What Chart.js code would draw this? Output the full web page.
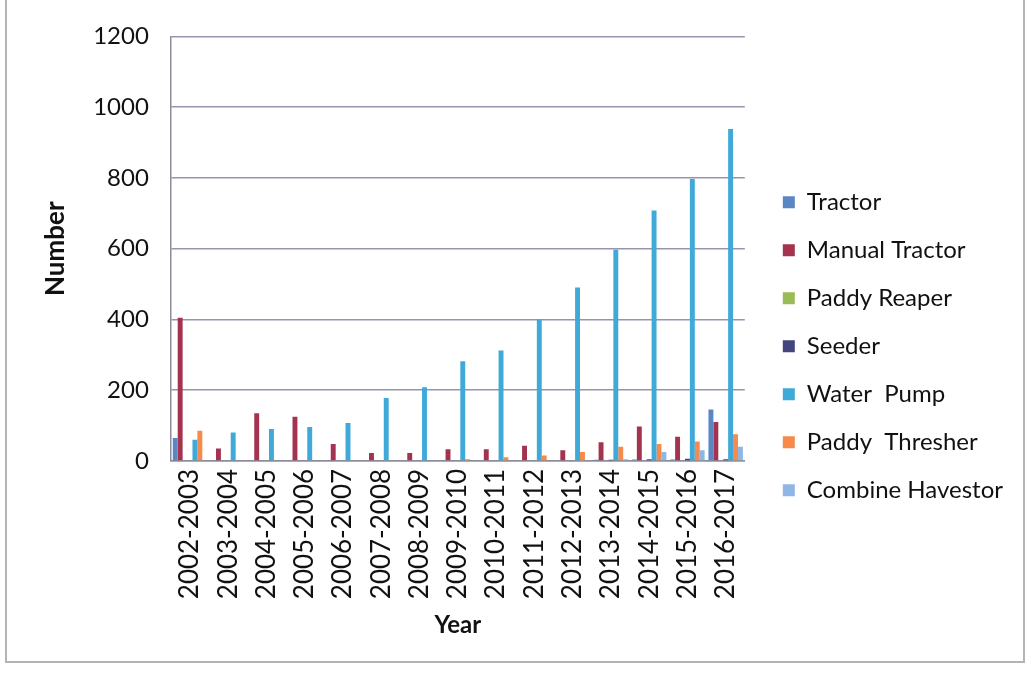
<!DOCTYPE html>
<html>
<head>
<meta charset="utf-8">
<title>Farm machinery by year</title>
<script src="https://cdn.jsdelivr.net/npm/chart.js@4"></script>
<style>
  html, body { margin: 0; padding: 0; background: #fff; }
  #wrap { position: relative; width: 1028px; height: 673px; overflow: hidden; }
  #frame { position: absolute; left: 5px; top: -3px; width: 1020px; height: 666px; border: 2px solid #b4b4b4; box-sizing: border-box; }
  #chart { position: absolute; left: 0; top: 0; }
</style>
</head>
<body>
<div id="wrap">
  <div id="frame"></div>
  <canvas id="chart" width="1028" height="673"></canvas>
</div>
<script>
// categories (x axis)
const years = [
  "2002-2003", "2003-2004", "2004-2005", "2005-2006", "2006-2007",
  "2007-2008", "2008-2009", "2009-2010", "2010-2011", "2011-2012",
  "2012-2013", "2013-2014", "2014-2015", "2015-2016", "2016-2017",
];

// series values
const tractor        = [65, 0, 0, 0, 0, 0, 0, 0, 0, 0, 0, 3, 4, 4, 145];
const manualTractor  = [405, 35, 135, 125, 48, 22, 22, 33, 33, 43, 30, 53, 97, 68, 110];
const paddyReaper    = [0, 0, 0, 0, 0, 0, 0, 0, 0, 0, 0, 0, 0, 2, 0];
const seeder         = [0, 0, 0, 0, 0, 0, 0, 0, 0, 0, 0, 3, 5, 6, 5];
const waterPump      = [60, 80, 90, 96, 107, 178, 208, 282, 312, 400, 490, 597, 708, 797, 938];
const paddyThresher  = [85, 0, 0, 0, 0, 0, 0, 5, 10, 15, 25, 40, 48, 55, 75];
const combineHarvest = [0, 0, 0, 0, 0, 0, 0, 0, 0, 0, 0, 5, 25, 30, 40];

const yTicks = [0, 200, 400, 600, 800, 1000, 1200];

const FONT = "Lato, 'Open Sans', 'DejaVu Sans', sans-serif";

function ds(label, data, color) {
  return { label, data, backgroundColor: color, borderWidth: 0 };
}

const ctx = document.getElementById("chart").getContext("2d");
new Chart(ctx, {
  type: "bar",
  data: {
    labels: years,
    datasets: [
      ds("Tractor", tractor, "#5b86c4"),
      ds("Manual Tractor", manualTractor, "#a3334f"),
      ds("Paddy Reaper", paddyReaper, "#9bbb59"),
      ds("Seeder", seeder, "#45457e"),
      ds("Water  Pump", waterPump, "#3fa9d8"),
      ds("Paddy  Thresher", paddyThresher, "#f58a4c"),
      ds("Combine Havestor", combineHarvest, "#8fb7e5"),
    ],
  },
  options: {
    responsive: false,
    animation: false,
    devicePixelRatio: 1,
    datasets: { bar: { categoryPercentage: 0.9, barPercentage: 1.0 } },
    layout: { padding: { top: 32, left: 40, right: 15, bottom: 33 } },
    plugins: {
      tooltip: { enabled: false },
      legend: {
        position: "right",
        align: "center",
        maxWidth: 320,
        // blank title only pushes the items down a little
        title: { display: true, text: " ", font: { family: FONT, size: 17 }, padding: 0 },
        labels: {
          color: "#111",
          font: { family: FONT, size: 24 },
          boxWidth: 12,
          boxHeight: 12,
          padding: 24,
        },
      },
    },
    scales: {
      x: {
        grid: { display: false, drawTicks: false },
        border: { color: "#8c8c9c", width: 1.5 },
        ticks: {
          color: "#111",
          font: { family: FONT, size: 26 },
          minRotation: 90,
          maxRotation: 90,
          autoSkip: false,
          padding: 8,
        },
        title: {
          display: true,
          text: "Year",
          color: "#111",
          font: { family: FONT, size: 24, weight: "bold" },
          padding: { top: 4, bottom: 0 },
        },
      },
      y: {
        min: 0,
        max: 1200,
        afterBuildTicks: (axis) => { axis.ticks = yTicks.map((v) => ({ value: v })); },
        grid: { color: "#9593ad", lineWidth: 1.5, drawTicks: false },
        border: { color: "#8c8c9c", width: 1.5 },
        ticks: {
          color: "#111",
          font: { family: FONT, size: 24 },
          padding: 22,
          callback: (v) => String(v),
        },
        title: {
          display: true,
          text: "Number",
          color: "#111",
          font: { family: FONT, size: 26, weight: "bold" },
          padding: { top: 0, bottom: 0 },
        },
      },
      // empty right axis, only keeps a gap between the plot and the legend
      gap: {
        position: "right",
        display: true,
        grid: { display: false, drawTicks: false },
        border: { display: false },
        ticks: { display: false },
        afterFit: (s) => { s.width = 14; },
      },
    },
  },
});
</script>
</body>
</html>
